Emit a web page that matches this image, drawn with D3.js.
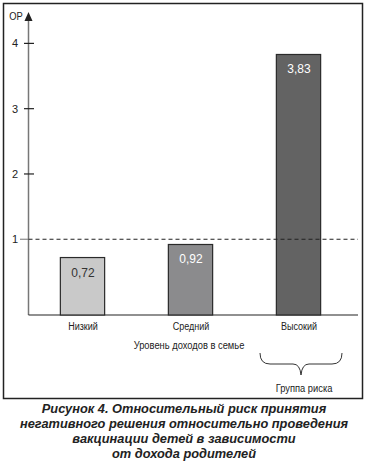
<!DOCTYPE html>
<html>
<head>
<meta charset="utf-8">
<script src="https://cdn.jsdelivr.net/npm/d3@7/dist/d3.min.js"></script>
<style>
  body { margin: 0; background: #fff; }
  svg text { font-family: "Liberation Sans", Arial, sans-serif; }
</style>
</head>
<body>
<div id="chart"></div>
<script>
// datos
const categories = ["Низкий", "Средний", "Высокий"];
const values = [0.72, 0.92, 3.83];
const valueLabels = ["0,72", "0,92", "3,83"];
const yTicks = [1, 2, 3, 4];
const barColors = ["#c9c9c9", "#8b8b8d", "#636363"];
const labelColors = ["#333", "#fff", "#fff"];
const caption = [
  "Рисунок 4. Относительный риск принятия",
  "негативного решения относительно проведения",
  "вакцинации детей в зависимости",
  "от дохода родителей"
];

const W = 368, H = 465;

const svg = d3.select("#chart")
  .append("svg")
  .attr("width", W)
  .attr("height", H);

// texto estrecho (la fuente original es condensada)
function narrowText(px, py, str, size, sx) {
  return svg.append("g")
    .attr("transform", `translate(${px},${py}) scale(${sx},1)`)
    .append("text")
    .attr("text-anchor", "middle")
    .attr("font-size", size)
    .attr("fill", "#222")
    .text(str);
}

// marco
svg.append("rect")
  .attr("x", 3.5).attr("y", 3.5)
  .attr("width", 359).attr("height", 395)
  .attr("fill", "none")
  .attr("stroke", "#222")
  .attr("stroke-width", 1.5);

// escalas
const x = d3.scaleBand()
  .domain(categories)
  .range([28, 352])
  .paddingInner(0.59)
  .paddingOuter(0.295);

const y = d3.scaleLinear()
  .domain([-0.16, 4.45])
  .range([315, 14]);

const axisX = 28.5;

// eje y
svg.append("line")
  .attr("x1", axisX).attr("x2", axisX)
  .attr("y1", y(-0.16)).attr("y2", 20)
  .attr("stroke", "#777")
  .attr("stroke-width", 1.5);

svg.append("path")
  .attr("d", `M${axisX - 4},21 L${axisX},12 L${axisX + 4},21 Z`)
  .attr("fill", "#222");

narrowText(16, 20, "ОР", 11, 0.85);

yTicks.forEach(t => {
  svg.append("line")
    .attr("x1", t === 1 ? 20 : 24)
    .attr("x2", t === 1 ? axisX : 34)
    .attr("y1", y(t)).attr("y2", y(t))
    .attr("stroke", t === 1 ? "#888" : "#222")
    .attr("stroke-width", 1.2);
  svg.append("text")
    .attr("x", 15).attr("y", y(t) + 4)
    .attr("text-anchor", "middle")
    .attr("font-size", 11)
    .attr("fill", "#222")
    .text(t);
});

// eje x
svg.append("line")
  .attr("x1", axisX).attr("x2", 358)
  .attr("y1", y(-0.16)).attr("y2", y(-0.16))
  .attr("stroke", "#222")
  .attr("stroke-width", 1.2);

// barras
svg.selectAll(".bar")
  .data(categories)
  .enter().append("rect")
  .attr("class", "bar")
  .attr("x", d => x(d) + 0.5)
  .attr("y", (d, i) => y(values[i]))
  .attr("width", x.bandwidth())
  .attr("height", (d, i) => y(-0.16) - y(values[i]))
  .attr("fill", (d, i) => barColors[i])
  .attr("stroke", "#2a2a2a")
  .attr("stroke-width", 1.2);

// linea discontinua en 1
svg.append("line")
  .attr("x1", axisX).attr("x2", 358)
  .attr("y1", y(1)).attr("y2", y(1))
  .attr("stroke", "#222")
  .attr("stroke-width", 1.1)
  .attr("stroke-dasharray", "4,3");

// valores
svg.selectAll(".val")
  .data(categories)
  .enter().append("text")
  .attr("class", "val")
  .attr("x", d => x(d) + x.bandwidth() / 2 + 1)
  .attr("y", (d, i) => y(values[i]) + 19)
  .attr("text-anchor", "middle")
  .attr("font-size", 12)
  .attr("fill", (d, i) => labelColors[i])
  .text((d, i) => valueLabels[i]);

// etiquetas categorias
categories.forEach(c => {
  narrowText(x(c) + x.bandwidth() / 2 + 1, 330, c, 11, 0.82);
});

narrowText(189, 349, "Уровень доходов в семье", 11, 0.85);

// llave "Группа риска"
const cx = x("Высокий") + x.bandwidth() / 2 + 3;
const bw = 41;
svg.append("path")
  .attr("d",
    `M${cx - bw},353 Q${cx - bw},364 ${cx - bw + 10},364 L${cx - 8},364 ` +
    `Q${cx - 1},364 ${cx},375 Q${cx + 1},364 ${cx + 8},364 ` +
    `L${cx + bw - 10},364 Q${cx + bw},364 ${cx + bw},353`)
  .attr("fill", "none")
  .attr("stroke", "#333")
  .attr("stroke-width", 1);

narrowText(cx + 3, 392, "Группа риска", 11, 0.85);

// pie de figura
svg.selectAll(".cap")
  .data(caption)
  .enter().append("text")
  .attr("class", "cap")
  .attr("x", 184)
  .attr("y", (d, i) => 413 + i * 15)
  .attr("text-anchor", "middle")
  .attr("font-size", 12.8)
  .attr("font-weight", "bold")
  .attr("font-style", "italic")
  .attr("fill", "#222")
  .text(d => d);
</script>
</body>
</html>
